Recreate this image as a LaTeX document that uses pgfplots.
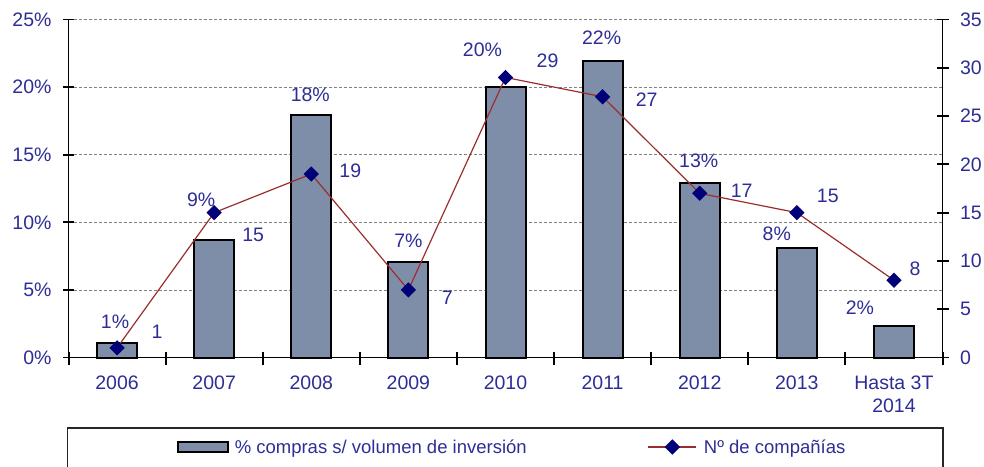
\documentclass[border=0pt]{standalone}
\usepackage{pgfplots}
\pgfplotsset{compat=1.18}
\usepackage{pgfplotstable}
\usepackage{fontspec}
\setmainfont{Liberation Sans}
\definecolor{txt}{RGB}{45,45,150}
\definecolor{barfill}{RGB}{126,142,168}
\definecolor{linec}{RGB}{155,45,45}
\definecolor{mk}{RGB}{0,0,120}
\definecolor{gridc}{RGB}{130,130,130}

\pgfplotstableread{
x y lab dx dy
0 1.1 1 -2 21
1 8.7 9 -13 40
2 17.9 18 -1 21
3 7.1 7 0 21
4 20.0 20 -23 37
5 21.9 22 -1 24
6 12.9 13 -1 22
7 8.1 8 -20 14
8 2.3 2 -34 19
}\bars
\pgfplotstableread{
x y dx dy
0 1 40 16
1 15 39 -22
2 19 39 3
3 7 39 -8
4 29 42 17
5 27 44 -3
6 17 42 3
7 15 31 17
8 8 21 11
}\lines

\pgfplotsset{
  /pgf/number format/assume math mode=true,
  barleg/.style={legend image code/.code={\draw[##1] (0pt,-5pt) rectangle (50pt,5pt);}},
  lineleg/.style={legend image code/.code={\draw[mark repeat=2, mark phase=2, ##1] plot coordinates {(0pt,0pt) (24pt,0pt) (48pt,0pt)};}},
  myaxis/.style={
    scale only axis, width=874pt, height=338pt,
    at={(68.5pt,108.5pt)}, anchor=south west,
    xmin=-0.5, xmax=8.5,
    axis line style={-, black, line width=1.6pt},
    tick style={black, line width=1.8pt},
    tick align=center,
    major tick length=11pt,
    clip=false,
    yticklabel style={text=txt},
    xticklabel style={text=txt},
  }
}

\begin{document}
\begin{tikzpicture}[font=\fontsize{19.5}{23}\selectfont]
\useasboundingbox (0,0) rectangle (984pt,466pt);
\begin{axis}[myaxis,
  ymin=0, ymax=25, ytick={0,5,...,25},
  axis x line*=bottom, axis y line*=left,
  yticklabel={\pgfmathprintnumber{\tick}\%},
  yticklabel style={xshift=-8pt},
  ymajorgrids, grid style={gridc, line width=0.8pt, dash pattern=on 3pt off 2pt},
  xtick={0,1,2,3,4,5,6,7,8},
  xticklabels={2006,2007,2008,2009,2010,2011,2012,2013,{Hasta 3T\\2014}},
  xtick style={draw=none},
  xticklabel style={align=center, yshift=-9pt},
]
\addplot[ybar, bar width=40pt, fill=barfill, draw=black, line width=2pt,
  point meta=explicit,
  nodes near coords={\pgfmathprintnumber[fixed,precision=0]{\pgfplotspointmeta}\%},
  visualization depends on={\thisrow{dx} \as \dx},
  visualization depends on={\thisrow{dy} \as \dy},
  every node near coord/.append style={anchor=center, xshift=\dx pt, yshift=\dy pt, text=txt, inner sep=0pt},
] table[x=x, y=y, meta=lab] {\bars};
\end{axis}
\begin{axis}[myaxis,
  ymin=0, ymax=35, ytick={0,5,...,35},
  axis y line*=right, axis x line=none,
  major tick length=12pt,
  yticklabel style={xshift=8pt},
  legend columns=2,
  legend style={at={(axis description cs:0.1242,-0.2648)}, anchor=west,
    draw=none, fill=none, inner sep=0pt, text=txt,
    font=\fontsize{18.5}{22}\selectfont,
    nodes={inner sep=3pt},
    /tikz/every even column/.append style={column sep=118pt}},
]
\addlegendimage{barleg, draw=black, fill=barfill, line width=1.5pt}
\addlegendentry{\hspace{3pt}\% compras s/ volumen de inversión}
\addplot[only marks, mark=|, mark size=6.5pt, mark options={black, line width=2pt}, forget plot]
  coordinates {(-0.5,-0.15) (0.5,-0.15) (1.5,-0.15) (2.5,-0.15) (3.5,-0.15) (4.5,-0.15) (5.5,-0.15) (6.5,-0.15) (7.5,-0.15) (8.5,-0.15)};
\addplot[linec, line width=1.2pt, mark=square*, mark size=4.8pt,
  mark options={solid, draw=mk, fill=mk, rotate=45},
  point meta=y, nodes near coords,
  visualization depends on={\thisrow{dx} \as \dx},
  visualization depends on={\thisrow{dy} \as \dy},
  every node near coord/.append style={anchor=center, xshift=\dx pt, yshift=\dy pt, text=txt, inner sep=0pt},
  forget plot] table[x=x, y=y] {\lines};
\addlegendimage{lineleg, linec, line width=1.2pt, mark=square*, mark size=4.8pt,
  mark options={solid, draw=mk, fill=mk, rotate=45}}
\addlegendentry{\hspace{4pt}Nº de compañías}
\end{axis}
\draw[line width=1.5pt, black!85] (67.5pt,38pt) rectangle (943pt,-20pt);
\end{tikzpicture}
\end{document}
